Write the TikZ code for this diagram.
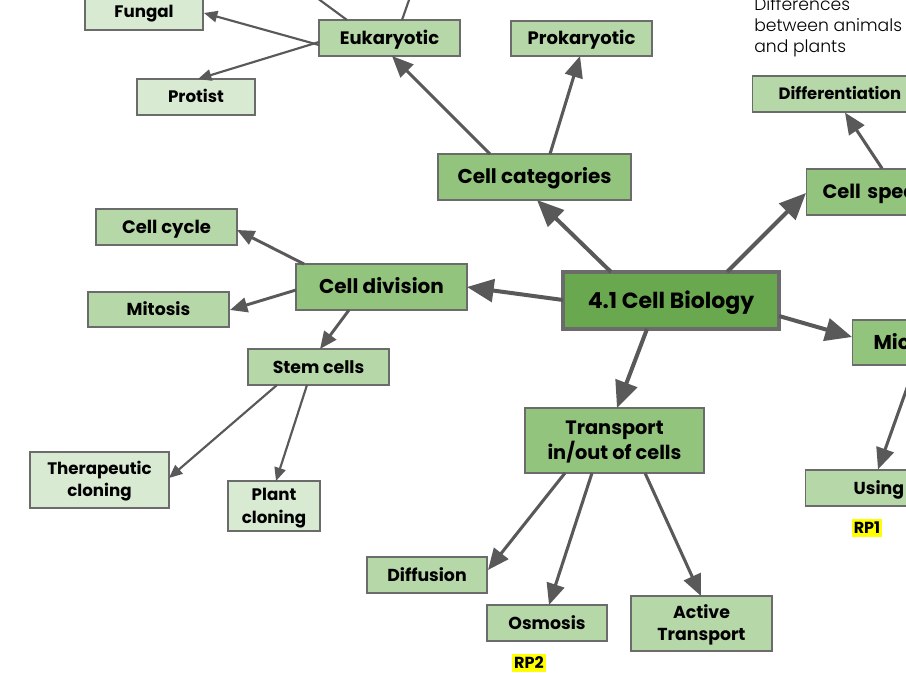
\documentclass[tikz,border=0pt]{standalone}
\usepackage{fontspec}
\setmainfont{Poppins}
\newfontfamily\lightfont{Poppins Light}
\usetikzlibrary{arrows.meta,calc}
\definecolor{ltc}{HTML}{D9EAD3}
\definecolor{mdc}{HTML}{B6D7A8}
\definecolor{dkc}{HTML}{93C47D}
\definecolor{cbc}{HTML}{6AA84F}
\definecolor{bordc}{HTML}{6B6B6B}
\definecolor{arrc}{HTML}{595959}
\definecolor{hlc}{HTML}{FFFF00}
\newcommand\fz[2]{\fontsize{#1}{#2}\selectfont\bfseries}
\tikzset{
  box/.style={draw=bordc, line width=0.9pt, inner sep=0pt, align=center},
  wh/.style 2 args={minimum width=#1*0.75pt, minimum height=#2*0.75pt},
  tx/.style n args={4}{font=\fz{#1}{#2}, text height=#3pt, text depth=#4pt},
  aA/.style={draw=arrc, line width=3pt, -{Triangle[length=20pt,width=17pt]}},
  aB/.style={draw=arrc, line width=2.3pt, -{Triangle[length=16pt,width=13.5pt]}},
  aC/.style={draw=arrc, line width=2.2pt, -{Triangle[length=13pt,width=11pt]}},
  aD/.style={draw=arrc, line width=1.6pt, -{Triangle[length=10pt,width=8.5pt]}},
  hl/.style={fill=hlc, inner xsep=1.5pt, inner ysep=2.5pt, font=\fz{12}{14}},
}
\begin{document}
\begin{tikzpicture}[x=0.75pt,y=-0.75pt]
\clip (0,0) rectangle (906,680);
\fill[white] (0,0) rectangle (906,680);

% nodes
\node[box,fill=ltc,wh={118}{36},tx={12.5}{15}{10.625}{1.875}] (fungal) at (144,12) {Fungal};
\node[box,fill=mdc,wh={141}{36},tx={13.5}{16}{11.475}{2.025}] (euk) at (389.5,38) {Eukaryotic};
\node[box,fill=ltc,wh={118}{36},tx={12.5}{15}{10.625}{1.875}] (protist) at (196,97) {Protist};
\node[box,fill=mdc,wh={141}{35},tx={13.5}{16}{11.475}{2.025}] (prok) at (581.5,38.5) {Prokaryotic};
\node[box,fill=dkc,wh={193}{46},tx={15}{18}{12.75}{2.25}] (cellcat) at (534.5,177) {Cell categories};
\node[box,fill=cbc,wh={216}{57},line width=3pt,tx={16.5}{20}{14.025}{2.475}] (cb) at (671,300.5) {4.1 Cell Biology};
\node[box,fill=dkc,wh={171}{46},tx={15}{18}{12.75}{2.25}] (celldiv) at (381.5,287) {Cell division};
\node[box,fill=mdc,wh={141}{36},tx={13.5}{16}{11.475}{2.025}] (cycle) at (166.5,227) {Cell cycle};
\node[box,fill=mdc,wh={141}{35},tx={13}{16}{11.05}{1.95}] (mitosis) at (158.5,309.5) {Mitosis};
\node[box,fill=mdc,wh={141}{36},tx={13}{16}{11.05}{1.95}] (stem) at (318.5,367) {Stem cells};
\node[box,fill=ltc,wh={139}{56},tx={12.5}{16.5}{27.125}{1.875}] (thera) at (99.5,480) {Therapeutic\\cloning};
\node[box,fill=ltc,wh={92}{50},tx={12.5}{17}{27.625}{1.875}] (plant) at (274,506) {Plant\\cloning};
\node[box,fill=dkc,wh={179}{65},tx={14.5}{18.75}{31.075}{2.175}] (transport) at (614.5,440.5) {Transport\\in/out of cells};
\node[box,fill=mdc,wh={120}{36},tx={13}{16}{11.05}{1.95}] (diffusion) at (427,575) {Diffusion};
\node[box,fill=mdc,wh={120}{36},tx={13}{16}{11.05}{1.95}] (osmosis) at (547,623) {Osmosis};
\node[box,fill=mdc,wh={141}{55},tx={13}{17}{28.05}{1.95}] (active) at (701.5,623.5) {Active\\Transport};

% right side, partly outside the page
\node[box,fill=mdc,anchor=west,align=left,inner xsep=26*0.75pt,text width=160*0.75pt,minimum height=36*0.75pt,tx={12.3}{16}{10.455}{1.845}] (diff) at (752,94) {Differentiation};
\node[box,fill=dkc,anchor=west,align=left,inner xsep=16*0.75pt,text width=120*0.75pt,minimum height=46*0.75pt,tx={14.6}{18}{12.41}{2.19}] (cellspec) at (806,192) {Cell spec};
\node[box,fill=dkc,anchor=west,align=left,inner xsep=21*0.75pt,text width=80*0.75pt,minimum height=45*0.75pt,tx={15}{18}{12.75}{2.25}] (mic) at (852,342.5) {Mic};
\node[box,fill=mdc,anchor=west,align=left,inner xsep=48*0.75pt,text width=80*0.75pt,minimum height=36*0.75pt,tx={13}{16}{11.05}{1.95}] (using) at (805,488) {Using};

\node[anchor=west,align=left,inner sep=0pt,font=\lightfont\fontsize{12.9}{15.75}\selectfont] (diffs) at (754,27) {Differences\\between animals\\and plants};

\node[hl] (rp1) at (867,528) {RP1};
\node[hl] (rp2) at (529,663) {RP2};

\coordinate (up1) at (279,-30);
\coordinate (up2) at (419.5,-30);

% connectors
\draw[aA] ($(cb.center)+(-60,-28.5)$) -- ($(cellcat.center)+(2.5,23)$);
\draw[aA] ($(cb.center)+(56,-28.5)$) -- ($(cellspec.west)+(0,1)$);
\draw[aA] ($(cb.center)+(108,15.5)$) -- ($(mic.west)+(0,-5.5)$);
\draw[aA] ($(cb.center)+(-24,28.5)$) -- ($(transport.center)+(2.5,-32.5)$);
\draw[aA] ($(cb.center)+(-108,-0.5)$) -- ($(celldiv.center)+(85.5,0)$);

\draw[aB] ($(cellcat.center)+(-44.5,-23)$) -- ($(euk.center)+(2.5,18)$);
\draw[aB] ($(cellcat.center)+(15.5,-23)$) -- ($(prok.center)+(-1.5,17.5)$);
\draw[aB] ($(cellspec.north west)+(76,0)$) -- ($(diff.south west)+(93,0)$);
\draw[aB] ($(mic.south west)+(63,0)$) -- ($(using.north west)+(73,0)$);

\draw[aD] ($(euk.center)+(-70.5,7)$) -- ($(fungal.center)+(60,1)$);
\draw[aD] ($(euk.center)+(-70.5,4)$) -- ($(protist.center)+(2,-18)$);
\draw[aD] ($(euk.center)+(-42.5,-18)$) -- (up1);
\draw[aD] ($(euk.center)+(12.5,-18)$) -- (up2);

\draw[aC] ($(celldiv.center)+(-77.5,-23)$) -- ($(cycle.center)+(70.5,3)$);
\draw[aC] ($(celldiv.center)+(-85.5,3)$) -- ($(mitosis.center)+(71.5,0.5)$);
\draw[aC] ($(celldiv.center)+(-32.5,23)$) -- ($(stem.center)+(1.5,-18)$);

\draw[aD] ($(stem.center)+(-41.5,18)$) -- ($(thera.center)+(69.5,-2)$);
\draw[aD] ($(stem.center)+(-11.5,18)$) -- ($(plant.center)+(2,-25)$);

\draw[aB] ($(transport.center)+(-49.5,32.5)$) -- ($(diffusion.center)+(61,-5)$);
\draw[aB] ($(transport.center)+(-22.5,32.5)$) -- ($(osmosis.center)+(2,-18)$);
\draw[aB] ($(transport.center)+(30.5,32.5)$) -- ($(active.center)+(-0.5,-27.5)$);
\end{tikzpicture}
\end{document}
